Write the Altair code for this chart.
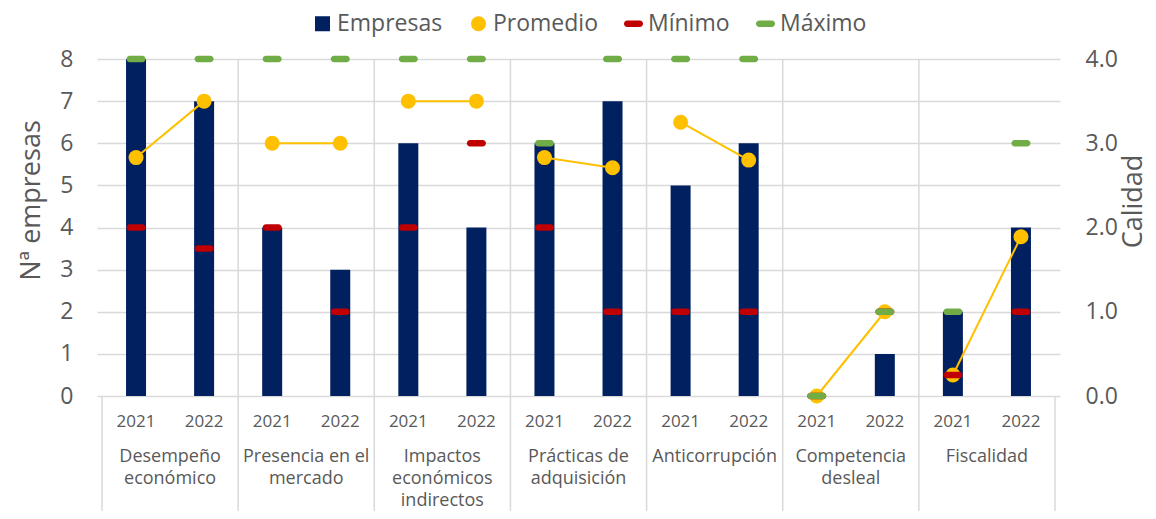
import altair as alt
import pandas as pd

# ---------------- data ----------------
categories = ["Desempeño\neconómico", "Presencia en el\nmercado", "Impactos\neconómicos\nindirectos",
              "Prácticas de\nadquisición", "Anticorrupción", "Competencia\ndesleal", "Fiscalidad"]
years = ["2021", "2022"]
empresas = [8, 7, 4, 3, 6, 4, 6, 7, 5, 6, 0, 1, 2, 4]
promedio = [2.83, 3.5, 3.0, 3.0, 3.5, 3.5, 2.83, 2.71, 3.25, 2.8, 0.0, 1.0, 0.25, 1.89]
minimo = [2.0, 1.75, 2.0, 1.0, 2.0, 3.0, 2.0, 1.0, 1.0, 1.0, 0.0, 1.0, 0.25, 1.0]
maximo = [4.0, 4.0, 4.0, 4.0, 4.0, 4.0, 3.0, 4.0, 4.0, 4.0, 0.0, 1.0, 1.0, 3.0]
series_names = ["Empresas", "Promedio", "Mínimo", "Máximo"]
series_colors = ["#002060", "#FFC000", "#C00000", "#70AD47"]

ng = len(years)
rows = []
for ci, cat in enumerate(categories):
    for yi, yr in enumerate(years):
        i = ci * ng + yi
        rows.append(dict(idx=i, cat=cat, year=yr, empresas=empresas[i], promedio=promedio[i],
                         minimo=minimo[i], maximo=maximo[i]))
df = pd.DataFrame(rows)
n = len(df)
df_cat = pd.DataFrame({"cat": categories,
                       "pos": [ci * ng + (ng - 1) / 2 for ci in range(len(categories))]})
df_sep_inner = pd.DataFrame({"pos": [ci * ng - 0.5 for ci in range(1, len(categories))]})
df_sep_outer = pd.DataFrame({"pos": [-0.5, n - 0.5]})

# ---------------- style ----------------
W, H = 963, 337
FONT = "Open Sans"
TXT = "#595959"
GRID = "#d9d9d9"
DASH = "M-0.84,-0.43L0.84,-0.43A0.43,0.43 0 0 1 0.84,0.43L-0.84,0.43A0.43,0.43 0 0 1 -0.84,-0.43Z"
shapes = ["square", "circle", DASH, DASH]

xs = alt.Scale(domain=[-0.5, n - 0.5], nice=False, zero=False)
x = alt.X("idx:Q", scale=xs, axis=None)

legend = alt.Legend(title=None, orient="none", legendX=214, legendY=-47, direction="horizontal",
                    labelFontSize=23, labelColor=TXT, labelFont=FONT, symbolSize=225,
                    symbolStrokeWidth=0, columnPadding=24, labelOffset=3, padding=0,
                    labelLimit=300)
color = alt.Color("series:N", scale=alt.Scale(domain=series_names, range=series_colors),
                  legend=legend, title=None)
shape = alt.Shape("series:N", scale=alt.Scale(domain=series_names, range=shapes),
                  legend=legend, title=None)

left_axis = alt.Axis(title="Nª empresas", values=list(range(9)), grid=True, gridColor=GRID,
                     gridWidth=1.5, domain=False, ticks=False, labelPadding=24, labelFontSize=23,
                     labelColor=TXT, labelFont=FONT, titleFontSize=27, titleFontWeight="normal",
                     titleColor=TXT, titleFont=FONT, titlePadding=14, titleY=141)
right_axis = alt.Axis(title="Calidad", orient="right", values=[0, 1, 2, 3, 4], format=".1f",
                      grid=False, domain=False, ticks=False, labelPadding=25, labelFontSize=23,
                      labelColor=TXT, labelFont=FONT, titleFontSize=27, titleFontWeight="normal",
                      titleColor=TXT, titleFont=FONT, titleAngle=270, titleX=81, titleY=142,
                      titleBaseline="alphabetic", titleAlign="center")

rules_inner = alt.Chart(df_sep_inner).mark_rule(color=GRID, strokeWidth=1.5).encode(
    x=alt.X("pos:Q", scale=xs, axis=None), y=alt.value(0), y2=alt.value(H + 130))
rules_outer = alt.Chart(df_sep_outer).mark_rule(color=GRID, strokeWidth=1.5).encode(
    x=alt.X("pos:Q", scale=xs, axis=None), y=alt.value(H), y2=alt.value(H + 130))

bars = alt.Chart(df).transform_calculate(series="'Empresas'").mark_bar(size=20).encode(
    x=x, y=alt.Y("empresas:Q", scale=alt.Scale(domain=[0, 8]), axis=left_axis), color=color)

year_text = alt.Chart(df).mark_text(fontSize=17, color=TXT, font=FONT, baseline="middle").encode(
    x=x, y=alt.value(H + 26), text="year:N")
cat_text = alt.Chart(df_cat).mark_text(fontSize=18, color=TXT, font=FONT, baseline="top",
                                       lineBreak="\n", lineHeight=22).encode(
    x=alt.X("pos:Q", scale=xs, axis=None), y=alt.value(H + 52), text="cat:N")

left = alt.layer(rules_inner, rules_outer, bars, year_text, cat_text)

ry = alt.Scale(domain=[0, 4])
line = alt.Chart(df).mark_line(color="#FFC000", strokeWidth=2).encode(
    x=x, y=alt.Y("promedio:Q", scale=ry, axis=right_axis), detail="cat:N")
prom = alt.Chart(df).transform_calculate(series="'Promedio'").mark_point(
    filled=True, opacity=1, size=225).encode(
    x=x, y=alt.Y("promedio:Q", scale=ry, axis=right_axis), color=color, shape=shape)
mins = alt.Chart(df).transform_calculate(series="'Mínimo'").mark_point(
    filled=True, opacity=1, size=225).encode(
    x=x, y=alt.Y("minimo:Q", scale=ry, axis=right_axis), color=color, shape=shape)
maxs = alt.Chart(df).transform_calculate(series="'Máximo'").mark_point(
    filled=True, opacity=1, size=225).encode(
    x=x, y=alt.Y("maximo:Q", scale=ry, axis=right_axis), color=color, shape=shape)

right = alt.layer(line, prom, mins, maxs)

chart = alt.layer(left, right).resolve_scale(y="independent").properties(
    width=W, height=H,
    padding={"left": 89, "top": 51, "right": 88, "bottom": 115},
    autosize=alt.AutoSizeParams(type="none"),
).configure_view(stroke=None)

chart.save("out.html", embed_options={"renderer": "svg", "actions": False})
